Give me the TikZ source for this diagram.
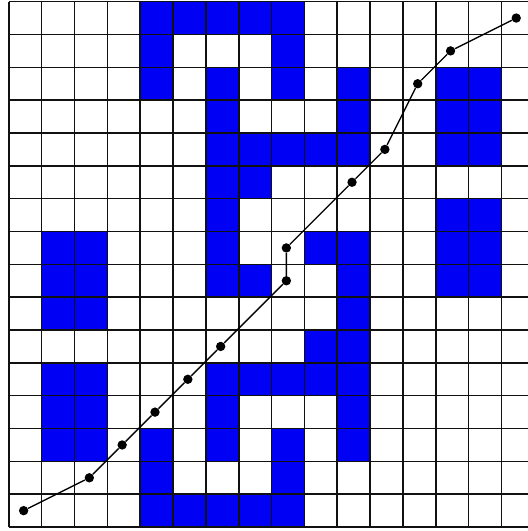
\documentclass[tikz,border=0pt]{standalone}
\usetikzlibrary{calc}
\definecolor{cellblue}{HTML}{0000F5}
\definecolor{griddark}{HTML}{111111}

\begin{document}
\begin{tikzpicture}[
    scale=0.8,
    gridline/.style={line width=1.1pt, griddark},
    pathline/.style={line width=0.9pt, black},
    dot/.style={circle, fill=black, inner sep=0pt, minimum size=6.5pt}
]

% Frame (right column is cut off)
\useasboundingbox (-0.27,-0.12) rectangle (15.8,16.05);

% Blocked cells, row 0 is the top row
\foreach \r/\cols in {0/{4,5,6,7,8}, 1/{4,8}, 2/{4,6,8,10,13,14}, 3/{6,10,13,14},
    4/{6,7,8,9,10,13,14}, 5/{6,7}, 6/{6,13,14}, 7/{1,2,6,9,10,13,14},
    8/{1,2,6,7,10,13,14}, 9/{1,2,10}, 10/{9,10}, 11/{1,2,6,7,8,9,10},
    12/{1,2,6,10}, 13/{1,2,4,6,8,10}, 14/{4,8}, 15/{4,5,6,7,8}}
    \foreach \c in \cols
        \fill[cellblue] (\c,15-\r) rectangle ++(1,1);

% Grid
\draw[gridline] (0,0) grid (16,16);

% Path points
\foreach \px/\py [count=\i] in {0.5/0.5, 2.5/1.5, 3.5/2.5, 4.5/3.5, 5.5/4.5, 6.5/5.5,
    8.5/7.5, 8.5/8.5, 10.5/10.5, 11.5/11.5, 12.5/13.5, 13.5/14.5, 15.5/15.5}
    \node[dot] (p\i) at (\px-0.05,\py) {};

% Path
\foreach \i [remember=\i as \j (initially 1)] in {2,...,13}
    \draw[pathline] (p\j) -- (p\i);

\end{tikzpicture}
\end{document}
